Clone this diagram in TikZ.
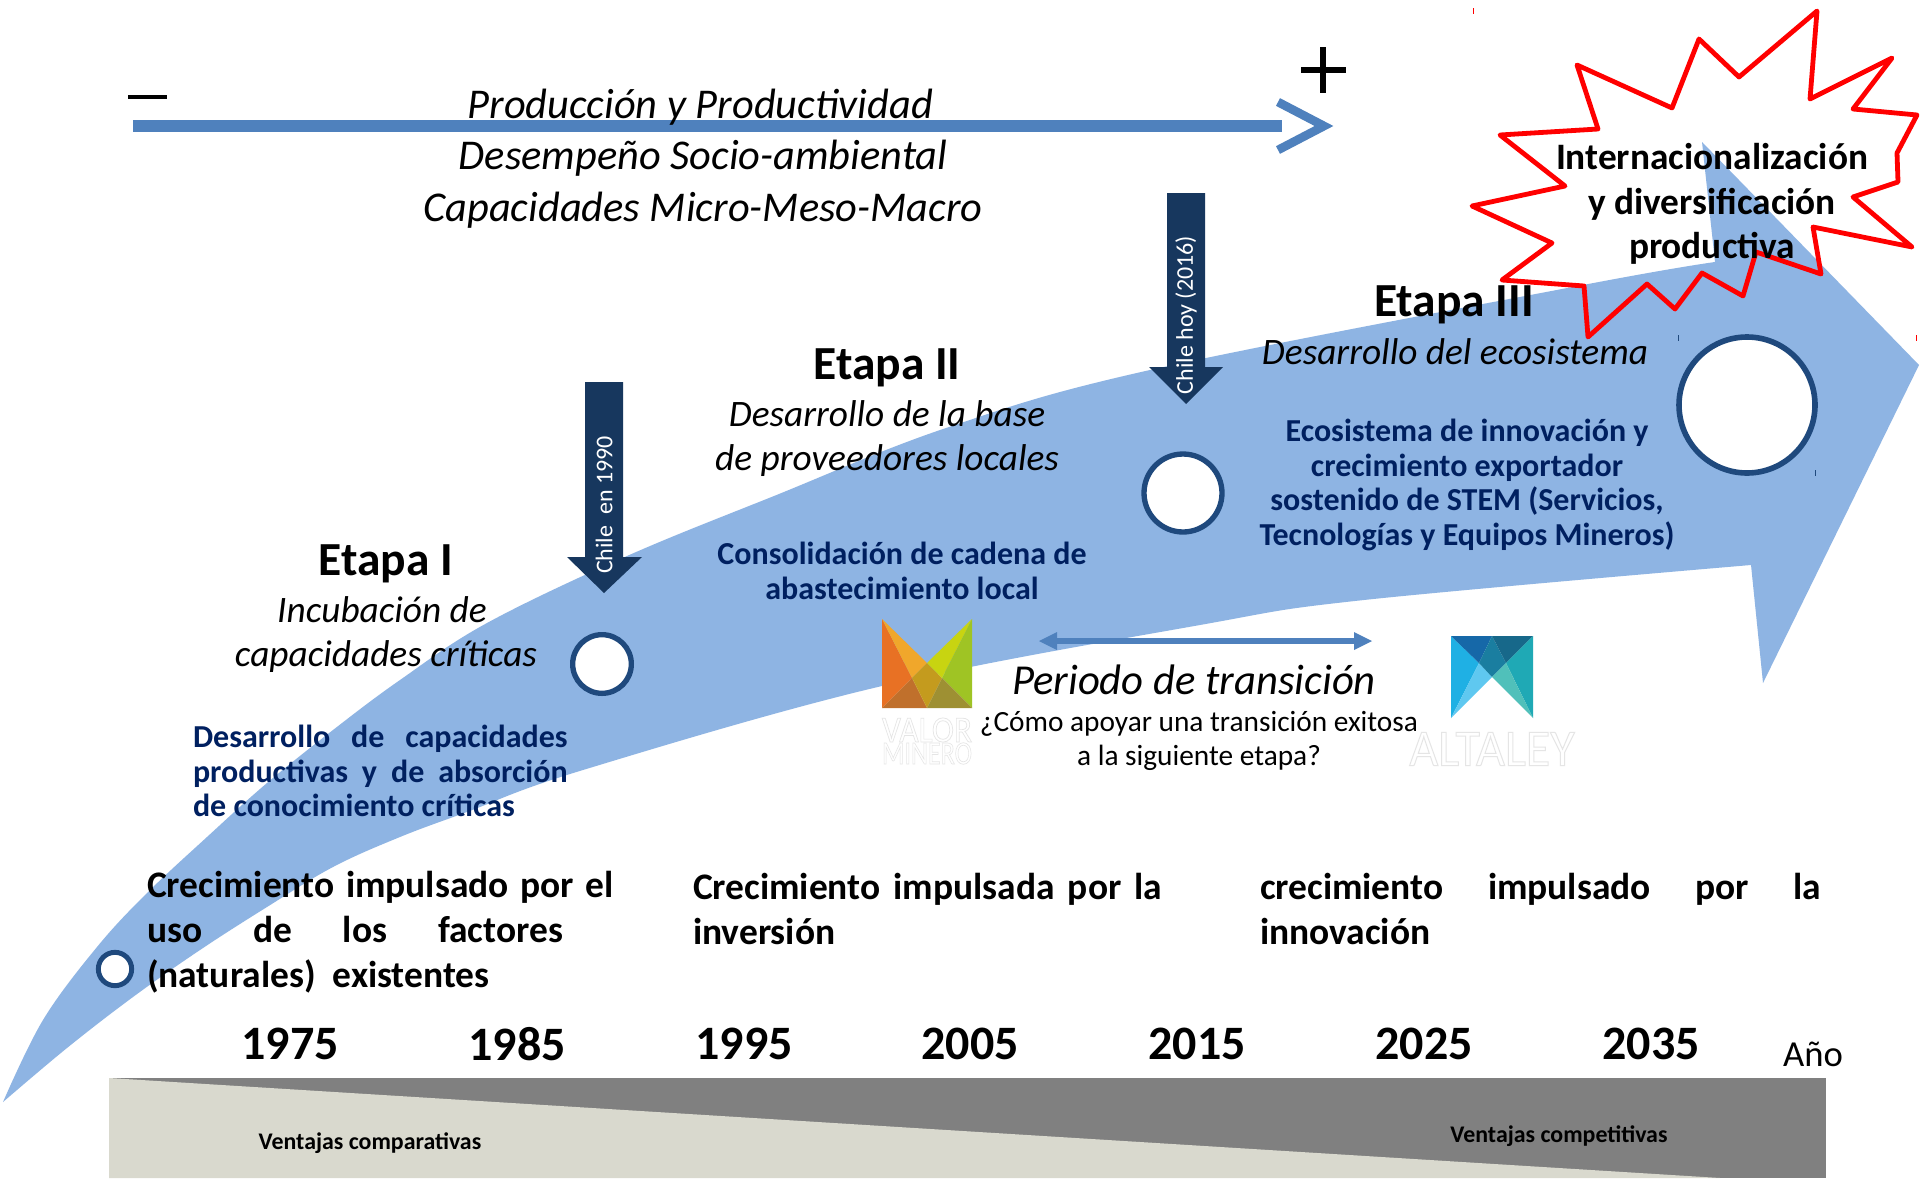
\documentclass[tikz,border=0pt]{standalone}
\usepackage{fontspec}
\setmainfont{Carlito}
\definecolor{flow}{HTML}{8EB4E3}
\definecolor{toparrow}{HTML}{4F81BD}
\definecolor{navy}{HTML}{17375E}
\definecolor{ring}{HTML}{1F497D}
\definecolor{bluetext}{HTML}{002060}
\definecolor{beige}{HTML}{D9D9CE}
\definecolor{grayband}{HTML}{808080}
\definecolor{vma}{HTML}{E87124}
\definecolor{vmb}{HTML}{F0A72B}
\definecolor{vmc}{HTML}{C0702C}
\definecolor{vmd}{HTML}{C49B1E}
\definecolor{vme}{HTML}{C8D411}
\definecolor{vmf}{HTML}{9FC424}
\definecolor{vmg}{HTML}{9E9033}
\definecolor{ala}{HTML}{1FB0E4}
\definecolor{alb}{HTML}{5FC8F0}
\definecolor{alc}{HTML}{1668A8}
\definecolor{ald}{HTML}{1A7EA0}
\definecolor{ale}{HTML}{17688A}
\definecolor{alf}{HTML}{1FA9B5}
\definecolor{alg}{HTML}{50C0BA}
\newcommand{\fz}[2]{\fontsize{#1}{#2}\selectfont}
\newcommand{\js}[2]{\makebox[#1][s]{#2}}
\newcommand{\ghosttext}[3]{\special{pdf:code q 2 Tr 0.2 w 0.9 G 1 g}\resizebox{#1}{#2}{#3}\special{pdf:code 0 Tr Q}}
\tikzset{
  x=.75pt,y=-.75pt,
  txt/.style={inner sep=0pt,outer sep=0pt,align=center},
  toptext/.style={txt,font=\fz{31.8}{38.5}\itshape},
  etapa/.style={txt,font=\fz{35.6}{40}\bfseries},
  subtext/.style={txt,font=\fz{28}{33}\itshape},
  bluenote/.style={txt,text=bluetext,font=\fz{24}{26}\bfseries},
  growth/.style={txt,anchor=west,align=left,font=\fz{28.1}{33.7}\bfseries},
  yearlabel/.style={txt,font=\fz{36}{40}\bfseries},
  advantage/.style={txt,font=\fz{17.9}{20}\bfseries},
  burst/.style={draw=red,line width=3.6pt,line join=round},
  ringnode/.style={circle,draw=ring,fill=white,inner sep=0pt},
  downarrow/.style={fill=navy},
  vlabel/.style={txt,rotate=90,text=white,font=\fz{18}{20}},
  tick/.style={line width=.6pt},
}
\begin{document}
\begin{tikzpicture}
\path[use as bounding box,fill=white] (0,0) rectangle (1920,1178);
% main flow arrow
\fill[flow] plot[smooth,tension=.6] coordinates {(3,1102) (43,1020) (97,947) (147,893) (207,837) (267,783) (333,730) (400,680) (487,623) (627,556) (774,496) (946,428) (1150,370) (1583,285) (1715,262)}
  -- (1702,142) -- (1919,365) -- (1763,683) -- (1751,565)
  -- plot[smooth,tension=.6] coordinates {(1751,565) (1364,600) (1200,625) (882,686) (583,770) (467,812) (400,837) (333,867) (267,907) (200,950) (133,997) (67,1048) (3,1102)} -- cycle;
% bottom band
\fill[grayband] (109,1078) rectangle (1826,1178);
\fill[beige] (109,1078) -- (1720,1178) -- (109,1178) -- cycle;
\node[advantage] (comp) at (370,1143) {Ventajas comparativas};
\node[advantage] (compet) at (1559,1136) {Ventajas competitivas};
% top arrow
\coordinate (ta) at (133,126);
\coordinate (tb) at (1282,126);
\coordinate (tc) at (1324,126);
\draw[toparrow,line width=9pt] (ta) -- (tb);
\draw[toparrow,line width=6.5pt] (1278,102) -- (tc) -- (1278,150);
\draw[line width=3.2pt] (128,97) -- (167,97);
\draw[line width=4pt] (1323,47) -- (1323,93) (1301,70) -- (1346,70);
\node[toptext] (prod) at (703,158.5) {Producción y Productividad\hspace*{4pt}\\Desempeño Socio-ambiental\\Capacidades Micro-Meso-Macro};
% rings
\node[ringnode,line width=3.7pt,minimum size=25pt] (r0) at (115,969) {};
\node[ringnode,line width=4pt,minimum size=44pt] (r1) at (602,664) {};
\node[ringnode,line width=4pt,minimum size=58.5pt] (r2) at (1183,493) {};
\node[ringnode,line width=4.2pt,minimum size=102pt] (r3) at (1747,405) {};
% down arrows
\fill[downarrow] (585,382) -- (623,382) -- (623,557) -- (642,557) -- (604,593) -- (567,557) -- (585,557) -- cycle;
\fill[downarrow] (1167,193) -- (1205,193) -- (1205,367) -- (1223,367) -- (1186,404) -- (1149,367) -- (1167,367) -- cycle;
\node[vlabel] (l1990) at (604,505) {Chile\ \ en 1990};
\node[vlabel] (l2016) at (1186,315) {Chile hoy (2016)};
% stages
\node[etapa] (e1) at (386,563.5) {Etapa I};
\node[subtext] (s1) at (386,634.5) {Incubación de\hspace*{6pt}\\capacidades críticas};
\node[bluenote,anchor=west,align=left] (b1) at (193,771) {\js{281pt}{Desarrollo de capacidades}\\\js{281pt}{productivas y de absorción}\\de conocimiento críticas};
\node[etapa] (e2) at (887,367.5) {Etapa II};
\node[subtext] (s2) at (887,438.5) {Desarrollo de la base\\de proveedores locales};
\node[bluenote] (b2) at (902,571) {Consolidación de cadena de\\abastecimiento local};
\node[etapa] (e3) at (1454,304.5) {Etapa III};
\node[subtext] (s3) at (1455,352) {Desarrollo del ecosistema};
\node[bluenote] (b3) at (1467,485) {Ecosistema de innovación y\\crecimiento exportador\\sostenido de STEM (Servicios,\\Tecnologías y Equipos Mineros)};
% transition
\coordinate (da) at (1039,641);
\coordinate (db) at (1372,641);
\draw[toparrow,line width=4.5pt,shorten <=12pt,shorten >=12pt] (da) -- (db);
\fill[toparrow] (da) -- (1057,632) -- (1057,650) -- cycle;
\fill[toparrow] (db) -- (1354,632) -- (1354,650) -- cycle;
\node[txt,font=\fz{32}{36}\itshape] (per) at (1194,680) {Periodo de transición};
\node[txt,font=\fz{22}{26}] (como) at (1199,741) {¿Cómo apoyar una transición exitosa\\a la siguiente etapa?};
% Valor Minero logo
\fill[vma] (882,619) -- (912,678) -- (882,708) -- cycle;
\fill[vmb] (882,619) -- (927,663) -- (912,678) -- cycle;
\fill[vmc] (912,678) -- (927,708) -- (882,708) -- cycle;
\fill[vmd] (927,663) -- (942,678) -- (927,708) -- (912,678) -- cycle;
\fill[vme] (972,619) -- (942,678) -- (927,663) -- cycle;
\fill[vmf] (972,619) -- (972,708) -- (942,678) -- cycle;
\fill[vmg] (942,678) -- (972,708) -- (927,708) -- cycle;
\node[txt] (vm1) at (927,730) {\ghosttext{67.5pt}{18pt}{VALOR}};
\node[txt] (vm2) at (927,753.5) {\ghosttext{67.5pt}{16pt}{MINERO}};
% Altaley logo
\fill[ala] (1451,636) -- (1451,718) -- (1479,663) -- cycle;
\fill[alb] (1479,663) -- (1492,677) -- (1451,718) -- cycle;
\fill[alc] (1451,636) -- (1492,636) -- (1479,663) -- cycle;
\fill[ald] (1492,636) -- (1506,663) -- (1492,677) -- (1479,663) -- cycle;
\fill[ale] (1492,636) -- (1533,636) -- (1506,663) -- cycle;
\fill[alf] (1533,636) -- (1533,718) -- (1506,663) -- cycle;
\fill[alg] (1506,663) -- (1533,718) -- (1492,677) -- cycle;
\node[txt] (alt) at (1492,749) {\ghosttext{124pt}{25pt}{ALTALEY}};
% burst
\draw[burst] (1817,11) -- (1810,99) -- (1892,58) -- (1853,109) -- (1917,115) -- (1897,153) -- (1898,182) -- (1853,197) -- (1912,247) -- (1813,227) -- (1821,274) -- (1756,252) -- (1743,296) -- (1702,273) -- (1675,309) -- (1647,284) -- (1588,337) -- (1584,286) -- (1502,280) -- (1552,243) -- (1472,206) -- (1565,186) -- (1500,135) -- (1598,129) -- (1577,65) -- (1672,108) -- (1699,39) -- (1739,77) -- cycle;
\node[txt,font=\fz{28}{33.5}\bfseries] (intl) at (1712,204) {Internacionalización\\y diversificación\\productiva};
% growth texts
\node[growth] (g1) at (147,932) {\js{350pt}{Crecimiento impulsado por el}\\\js{312pt}{uso de los factores}\\(naturales)\ \ existentes};
\node[growth] (g2) at (693,909) {\js{352pt}{Crecimiento impulsada por la}\\inversión};
\node[growth] (g3) at (1260,909) {\js{421pt}{crecimiento impulsado por la}\\innovación};
% years
\node[yearlabel] (y1) at (290,1044) {1975};
\node[yearlabel] (y2) at (517,1044) {1985};
\node[yearlabel] (y3) at (744,1044) {1995};
\node[yearlabel] (y4) at (970,1044) {2005};
\node[yearlabel] (y5) at (1197,1044) {2015};
\node[yearlabel] (y6) at (1424,1044) {2025};
\node[yearlabel] (y7) at (1651,1044) {2035};
\node[txt,font=\fz{27.5}{30}] (ano) at (1813,1054) {Año};
% handle ticks
\draw[tick,red] (1473,8) -- (1473,14) (1916,335) -- (1916,341);
\draw[tick,ring] (1678,335) -- (1678,341) (1815,470) -- (1815,476);
\end{tikzpicture}
\end{document}
